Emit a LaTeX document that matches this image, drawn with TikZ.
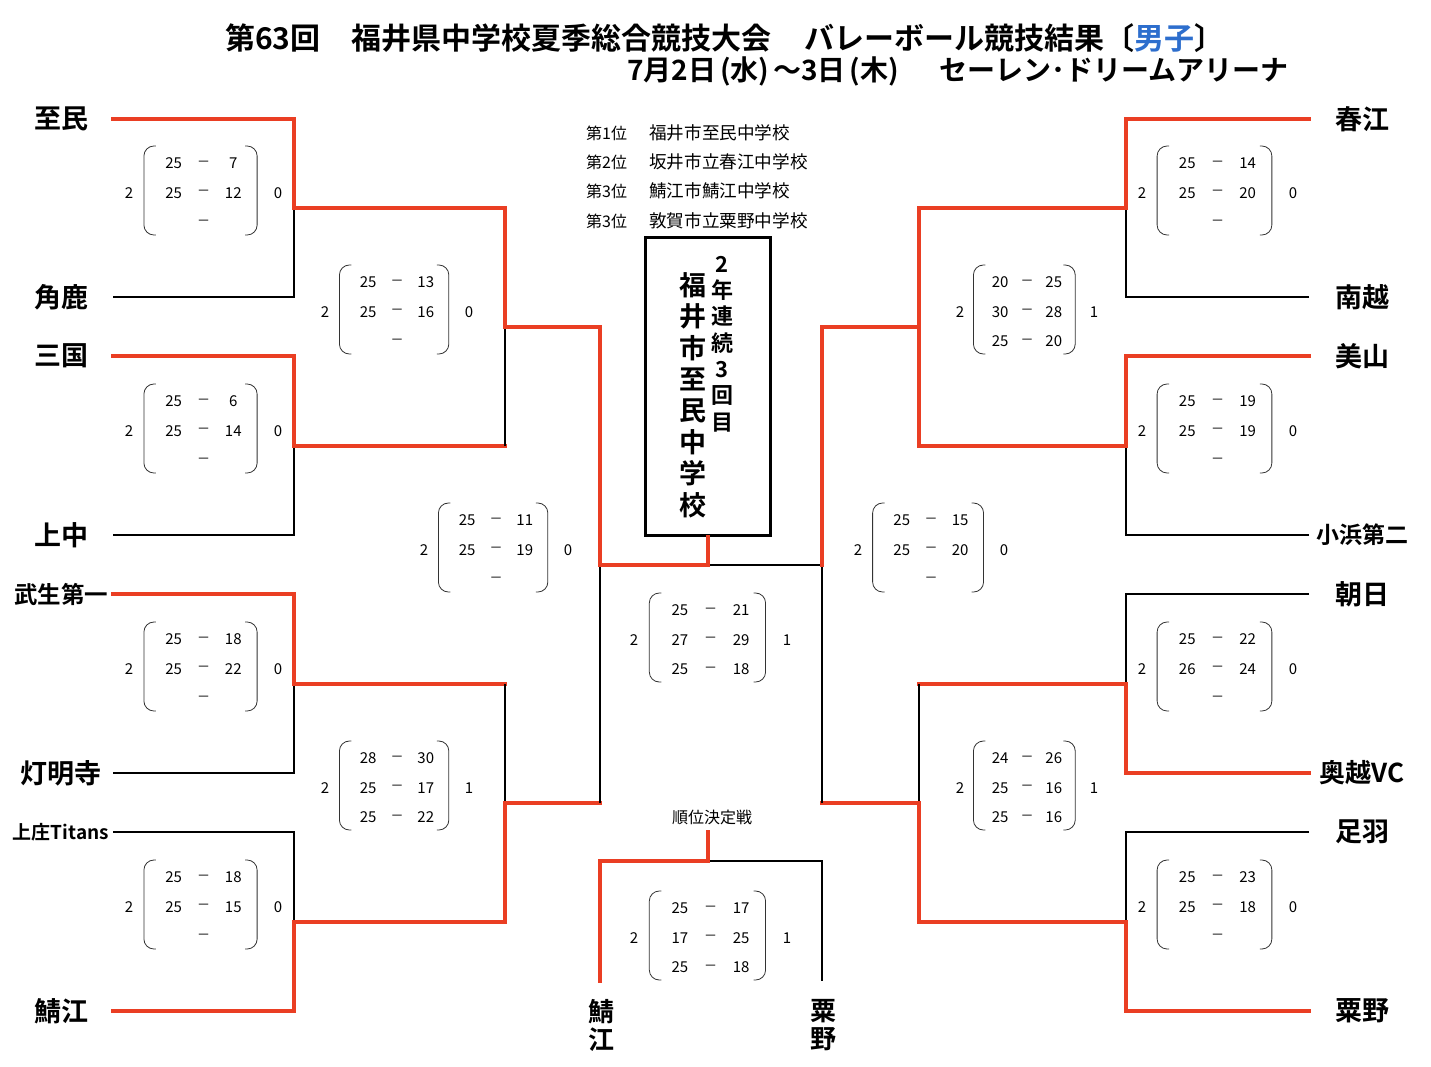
\documentclass[tikz,border=0pt]{standalone}
\usepackage{fontspec}
\setmainfont{Noto Sans CJK JP}[BoldFont={* Bold}]
\usepackage{xcolor}
\usepackage{tikz}
\usetikzlibrary{calc}
\usetikzlibrary{positioning}

\definecolor{bracketRed}{RGB}{234,62,35}
\definecolor{titleBlue}{RGB}{45,110,205}

% score block: name, x of left wins, x of right wins, y of middle row, wins, wins, sets
\newcommand{\matchScore}[7]{%
  \pgfmathsetmacro{\mWid}{#3-#2}
  \node[scoreText] (#1-l) at (#2,#4) {#5};
  \node[scoreText] (#1-r) at (#3,#4) {#6};
  \draw[scoreParen] ({#2+0.1*\mWid+12},{#4-47}) -- ({#2+0.1*\mWid},{#4-47})
    -- ({#2+0.1*\mWid},{#4+42}) -- ({#2+0.1*\mWid+12},{#4+42});
  \draw[scoreParen] ({#2+0.86*\mWid-12},{#4-47}) -- ({#2+0.86*\mWid},{#4-47})
    -- ({#2+0.86*\mWid},{#4+42}) -- ({#2+0.86*\mWid-12},{#4+42});
  \foreach \a/\b [count=\i] in {#7} {
    \node[scoreText] (#1-\i a) at ({#2+0.3*\mWid},{#4+(\i-2)*29.5}) {\a};
    \node[scoreText, font=\fontsize{13}{13}\selectfont] (#1-\i d) at ({#2+0.5*\mWid},{#4+(\i-2)*29.5}) {－};
    \node[scoreText] (#1-\i b) at ({#2+0.7*\mWid},{#4+(\i-2)*29.5}) {\b};
  }%
}

\begin{document}
\begin{tikzpicture}[
  x=1pt, y=-1pt,
  teamName/.style={font=\fontsize{#1}{#1}\selectfont\bfseries, inner sep=0},
  teamName/.default=27,
  winLine/.style={draw=bracketRed, line width=3.5pt, line cap=rect},
  loseLine/.style={draw=black, line width=1.2pt},
  scoreText/.style={font=\fontsize{15}{15}\selectfont, inner sep=0},
  rankText/.style={font=\fontsize{16}{16}\selectfont, inner sep=0, anchor=west},
  titleText/.style={font=\fontsize{30}{30}\selectfont\bfseries, inner sep=0, anchor=west},
]

\tikzset{
  scoreParen/.style={draw=black!80, line width=0.8pt, rounded corners=10pt}
}

\useasboundingbox (0,0) rectangle (1431,1066);

% --- title ---
\node[titleText] (title1) at (225,38) {第63回\hspace{31pt}福井県中学校夏季総合競技大会\hspace{33pt}バレーボール競技結果〔\textcolor{titleBlue}{男子}〕};
\node[titleText, font=\fontsize{28}{28}\selectfont\bfseries] (title2) at (627,71)
  {7月2日\hspace{4pt}(水)\hspace{4pt}～3日\hspace{4pt}(木)\hspace{40pt}セーレン･ドリームアリーナ};

% --- ranking ---
\foreach \rk/\sch/\yy [count=\i] in {第1位/福井市至民中学校/133, 第2位/坂井市立春江中学校/162,
    第3位/鯖江市鯖江中学校/191, 第3位/敦賀市立粟野中学校/221} {
  \node[rankText] (rank\i) at (586,\yy) {\rk};
  \node[rankText, font=\fontsize{17.6}{17.6}\selectfont] (school\i) at (649,\yy) {\sch};
}

% --- champion box ---
\node[draw, line width=3pt, minimum width=125, minimum height=298, inner sep=0] (champBox) at (707.5,386) {};
\node[font=\fontsize{27}{31.4}\selectfont\bfseries, align=center, inner sep=0] (champName) at (693,395)
  {福\\井\\市\\至\\民\\中\\学\\校};
\node[font=\fontsize{22}{26.3}\selectfont\bfseries, align=center, inner sep=0] (champNote) at (722,344)
  {2\\年\\連\\続\\3\\回\\目};

% --- teams ---
\foreach \tName/\yy/\fs [count=\i] in {至民/119/27, 角鹿/297/27, 三国/356/27, 上中/535/27,
    武生第一/594/23.5, 灯明寺/773/27, 上庄Titans/832/19, 鯖江/1011/27} {
  \node[teamName=\fs] (tL\i) at (61,\yy) {\tName};
  \coordinate (sL\i) at (113,\yy);
}
\foreach \tName/\yy/\fs [count=\i] in {春江/119/27, 南越/297/27, 美山/356/27, 小浜第二/535/23,
    朝日/594/27, 奥越VC/773/26, 足羽/832/27, 粟野/1011/27} {
  \node[teamName=\fs] (tR\i) at (1362,\yy) {\tName};
  \coordinate (sR\i) at (1309,\yy);
}

% junctions
\foreach \yy [count=\i] in {208,446,684,922} {
  \coordinate (jL\i) at (294,\yy);
  \coordinate (cL\i) at (505,\yy);
  \coordinate (jR\i) at (1126,\yy);
  \coordinate (cR\i) at (919,\yy);
}
\coordinate (jL5) at (505,327);
\coordinate (jL6) at (505,803);
\coordinate (cL5) at (600,327);
\coordinate (cL6) at (600,803);
\coordinate (jR5) at (919,327);
\coordinate (jR6) at (919,803);
\coordinate (cR5) at (822,327);
\coordinate (cR6) at (822,803);
\coordinate (jL7) at (600,565);
\coordinate (jR7) at (822,565);
\coordinate (cF) at (708,565);

% --- first round ---
\foreach \w/\l/\j in {1/2/1, 3/4/2, 5/6/3, 8/7/4} {
  \draw[loseLine] (sL\l) -| (jL\j);
  \draw[winLine] (sL\w) -| (jL\j) -- (cL\j);
}
\foreach \w/\l/\j in {1/2/1, 3/4/2, 6/5/3, 8/7/4} {
  \draw[loseLine] (sR\l) -| (jR\j);
  \draw[winLine] (sR\w) -| (jR\j) -- (cR\j);
}

% --- second round ---
\draw[loseLine] (cL2) -- (jL5);
\draw[loseLine] (cL3) -- (jL6);
\draw[loseLine] (cR3) -- (jR6);
\draw[winLine] (cL1) -- (jL5) -- (cL5);
\draw[winLine] (cL4) -- (jL6) -- (cL6);
\draw[winLine] (cR1) -- (jR5) -- (cR5);
\draw[winLine] (cR2) -- (jR5);
\draw[winLine] (cR4) -- (jR6) -- (cR6);

% --- semifinal and final ---
\draw[loseLine] (cL6) -- (jL7);
\draw[loseLine] (cR6) -- (jR7) -- (cF);
\draw[winLine] (cL5) -- (jL7) -- (cF) -- (cF |- champBox.south);
\draw[winLine] (cR5) -- (jR7);

% --- third place match ---
\node[rankText, anchor=center] (consTitle) at (712,817) {順位決定戦};
\node[font=\fontsize{26}{28}\selectfont\bfseries, align=center, inner sep=0] (consL) at (601,1025) {鯖\\江};
\node[font=\fontsize{26}{28}\selectfont\bfseries, align=center, inner sep=0] (consR) at (823,1025) {粟\\野};
\coordinate (kL) at (600,981);
\coordinate (kLt) at (600,861);
\coordinate (kM) at (708,861);
\coordinate (kMt) at (708,832);
\coordinate (kRt) at (822,861);
\coordinate (kR) at (822,981);
\draw[loseLine] (kM) -- (kRt) -- (kR);
\draw[winLine] (kL) -- (kLt) -- (kM) -- (kMt);

% --- scores ---
\matchScore{mL1}{129}{278}{193}{2}{0}{25/7, 25/12, /}
\matchScore{mL2}{129}{278}{431}{2}{0}{25/6, 25/14, /}
\matchScore{mL3}{129}{278}{669}{2}{0}{25/18, 25/22, /}
\matchScore{mL4}{129}{278}{907}{2}{0}{25/18, 25/15, /}
\matchScore{mL5}{325}{469}{312}{2}{0}{25/13, 25/16, /}
\matchScore{mL6}{325}{469}{788}{2}{1}{28/30, 25/17, 25/22}
\matchScore{mL7}{424}{568}{550}{2}{0}{25/11, 25/19, /}
\matchScore{mFin}{634}{787}{640}{2}{1}{25/21, 27/29, 25/18}
\matchScore{mThird}{634}{787}{938}{2}{1}{25/17, 17/25, 25/18}
\matchScore{mR7}{858}{1004}{550}{2}{0}{25/15, 25/20, /}
\matchScore{mR5}{960}{1094}{312}{2}{1}{20/25, 30/28, 25/20}
\matchScore{mR6}{960}{1094}{788}{2}{1}{24/26, 25/16, 25/16}
\matchScore{mR1}{1142}{1293}{193}{2}{0}{25/14, 25/20, /}
\matchScore{mR2}{1142}{1293}{431}{2}{0}{25/19, 25/19, /}
\matchScore{mR3}{1142}{1293}{669}{2}{0}{25/22, 26/24, /}
\matchScore{mR4}{1142}{1293}{907}{2}{0}{25/23, 25/18, /}

\end{tikzpicture}
\end{document}
